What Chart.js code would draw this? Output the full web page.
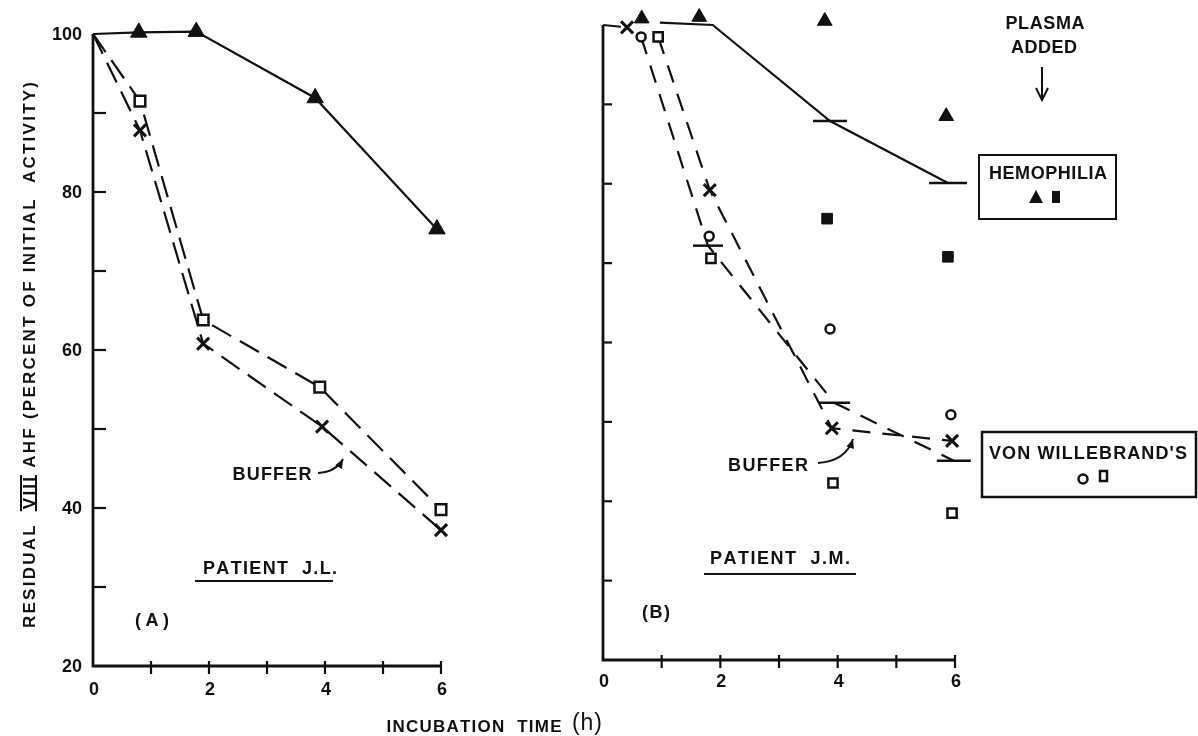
<!DOCTYPE html>
<html>
<head>
<meta charset="utf-8">
<script src="https://cdn.jsdelivr.net/npm/chart.js@4.4.1/dist/chart.umd.min.js"></script>
<style>
  body { margin: 0; background: #fff; }
  #wrap { position: relative; width: 1198px; height: 736px; }
  canvas { position: absolute; left: 0; top: 0; }
</style>
</head>
<body>
<div id="wrap">
  <canvas id="chartA" width="1198" height="736"></canvas>
  <canvas id="chartB" width="1198" height="736"></canvas>
</div>
<script>
const FONT = '"Liberation Sans", Arial, sans-serif';
const INK = '#111';

// ticks shared by both panels
const hourTicks = [0, 1, 2, 3, 4, 5, 6];
const hourLabels = ['0', '', '2', '', '4', '', '6'];
const percentTicks = [20, 30, 40, 50, 60, 70, 80, 90, 100];
const percentLabels = ['20', '', '40', '', '60', '', '80', '', '100'];

// (A) patient J.L.
const jlPlasmaHours = [0, 0.79, 1.78, 3.83, 5.93];
const jlPlasmaValues = [100, 100.2, 100.3, 91.9, 75.3];
const jlSquareHours = [0, 0.81, 1.9, 3.91, 6.0];
const jlSquareValues = [100, 91.5, 63.8, 55.3, 39.8];
const jlBufferHours = [0, 0.81, 1.9, 3.95, 6.0];
const jlBufferValues = [100, 87.8, 60.8, 50.3, 37.2];

// (B) patient J.M. - hemophilia plasma added
const jmHemTriHours = [0.66, 1.64, 3.78, 5.85];
const jmHemTriValues = [100.8, 101.0, 100.5, 88.5];
const jmHemSqHours = [0.92, 1.87, 3.82, 5.88];
const jmHemSqValues = [101.1, 101.3, 75.6, 70.8];
const jmHemMeanHours = [0.97, 1.87, 3.87, 5.88];
const jmHemMeanValues = [100.3, 100.0, 87.9, 80.1];

// (B) von Willebrand's plasma added
const jmVwCircleHours = [0.65, 1.81, 3.87, 5.93];
const jmVwCircleValues = [98.5, 73.4, 61.7, 50.9];
const jmVwSquareHours = [0.94, 1.84, 3.92, 5.95];
const jmVwSquareValues = [98.5, 70.6, 42.3, 38.5];
const jmVwMeanHours = [1.79, 3.94, 5.98];
const jmVwMeanValues = [72.2, 52.4, 45.1];
const jmVwPathHours = [0.65, 1.79, 3.94, 5.98];
const jmVwPathValues = [98.5, 72.2, 52.4, 45.1];

// (B) buffer
const jmBufferHours = [0.41, 1.82, 3.9, 5.95];
const jmBufferValues = [99.7, 79.2, 49.2, 47.6];
const jmBufferStartHours = [0, 0.41];
const jmBufferStartValues = [100, 99.7];
const jmBufferPathHours = [0.94, 1.82, 3.9, 5.95];
const jmBufferPathValues = [98.5, 79.2, 49.2, 47.6];

const pts = (hours, values) => hours.map((h, i) => ({ x: h, y: values[i] }));

function series(data, o) {
  return Object.assign({
    data,
    showLine: false,
    clip: false,
    borderColor: INK,
    borderWidth: 2.2,
    pointBorderColor: INK,
    pointBackgroundColor: INK,
    pointBorderWidth: 2.5,
    pointRadius: 0,
    pointHoverRadius: 0,
    tension: 0
  }, o);
}

function spacedText(ctx, text, cx, cy, width, size, weight) {
  ctx.font = (weight || 'bold') + ' ' + size + 'px ' + FONT;
  ctx.textAlign = 'left';
  ctx.textBaseline = 'alphabetic';
  const chars = [...text];
  const widths = chars.map(c => ctx.measureText(c).width);
  const natural = widths.reduce((s, w) => s + w, 0);
  const gap = chars.length > 1 ? (width - natural) / (chars.length - 1) : 0;
  let x = cx - width / 2;
  const pos = [];
  chars.forEach((c, i) => {
    ctx.fillText(c, x, cy + size * 0.36);
    pos.push([x, x + widths[i]]);
    x += widths[i] + gap;
  });
  return pos;
}

function seg(ctx, x1, y1, x2, y2) {
  ctx.beginPath(); ctx.moveTo(x1, y1); ctx.lineTo(x2, y2); ctx.stroke();
}

function curvedArrow(ctx, x1, y1, cx, cy, x2, y2) {
  ctx.beginPath(); ctx.moveTo(x1, y1); ctx.quadraticCurveTo(cx, cy, x2, y2); ctx.stroke();
  const ang = Math.atan2(y2 - cy, x2 - cx);
  ctx.beginPath();
  ctx.moveTo(x2, y2);
  ctx.lineTo(x2 - 10 * Math.cos(ang - 0.4), y2 - 10 * Math.sin(ang - 0.4));
  ctx.lineTo(x2 - 10 * Math.cos(ang + 0.4), y2 - 10 * Math.sin(ang + 0.4));
  ctx.closePath(); ctx.fill();
}

function axesPlugin(cfg) {
  return {
    id: 'axes' + cfg.name,
    beforeDatasetsDraw(chart) {
      const { ctx, chartArea: a, scales: { x, y } } = chart;
      ctx.save();
      ctx.strokeStyle = INK;
      ctx.fillStyle = INK;
      ctx.lineWidth = 2.8;
      ctx.beginPath();
      ctx.moveTo(a.left, a.top);
      ctx.lineTo(a.left, a.bottom);
      ctx.lineTo(a.right, a.bottom);
      ctx.stroke();
      ctx.lineWidth = 2.2;
      percentTicks.forEach((v, i) => {
        const py = y.getPixelForValue(v);
        if (v > 20 && v < 100) seg(ctx, a.left, py, a.left + cfg.yTick, py);
        if (cfg.yLabels && percentLabels[i]) {
          ctx.font = 'bold 18px ' + FONT;
          ctx.textAlign = 'right';
          ctx.textBaseline = 'middle';
          ctx.fillText(percentLabels[i], a.left - 11, py + 1);
        }
      });
      hourTicks.forEach((h, i) => {
        const px = x.getPixelForValue(h);
        if (h > 0) seg(ctx, px, a.bottom - 5, px, a.bottom + 8);
        if (hourLabels[i]) {
          ctx.font = 'bold 18px ' + FONT;
          ctx.textAlign = 'center';
          ctx.textBaseline = 'middle';
          ctx.fillText(hourLabels[i], px + 1, a.bottom + cfg.xLabelGap);
        }
      });
      ctx.restore();
    }
  };
}

const notesA = {
  id: 'notesA',
  afterDraw(chart) {
    const ctx = chart.ctx;
    ctx.save();
    ctx.fillStyle = INK;
    ctx.strokeStyle = INK;
    ctx.lineWidth = 2;
    spacedText(ctx, 'BUFFER', 272, 474, 79, 18);
    curvedArrow(ctx, 318, 473, 336, 472, 343, 459);
    spacedText(ctx, 'PATIENT  J.L.', 270, 568, 134, 18);
    seg(ctx, 195, 581, 333, 581);
    spacedText(ctx, '(A)', 152, 620, 34, 18);

    // axis titles for the whole figure
    spacedText(ctx, 'INCUBATION  TIME', 474, 726, 175, 17);
    spacedText(ctx, '(h)', 587, 722, 30, 23, 'normal');

    ctx.save();
    ctx.translate(29, 355);
    ctx.rotate(-Math.PI / 2);
    const title = 'RESIDUAL  VIII AHF (PERCENT OF INITIAL  ACTIVITY)';
    const pos = spacedText(ctx, title, 0, 0, 546, 17);
    const k = title.indexOf('VIII');
    const x1 = pos[k][0] - 2, x2 = pos[k + 3][1] + 2;
    seg(ctx, x1, -8, x2, -8);
    seg(ctx, x1, 7, x2, 7);
    ctx.restore();
    ctx.restore();
  }
};

const notesB = {
  id: 'notesB',
  afterDraw(chart) {
    const ctx = chart.ctx;
    ctx.save();
    ctx.fillStyle = INK;
    ctx.strokeStyle = INK;
    ctx.lineWidth = 2;
    spacedText(ctx, 'BUFFER', 768, 465, 80, 18);
    curvedArrow(ctx, 818, 463, 846, 461, 853, 439);
    spacedText(ctx, 'PATIENT  J.M.', 780, 558, 140, 18);
    seg(ctx, 704, 574, 856, 574);
    spacedText(ctx, '(B)', 656, 612, 28, 18);

    spacedText(ctx, 'PLASMA', 1045, 23, 79, 18);
    spacedText(ctx, 'ADDED', 1044, 47, 66, 18);
    seg(ctx, 1042, 67, 1042, 100);
    ctx.beginPath();
    ctx.moveTo(1036, 88); ctx.lineTo(1042, 100); ctx.lineTo(1048, 88);
    ctx.stroke();

    ctx.strokeRect(979, 155, 137, 64);
    spacedText(ctx, 'HEMOPHILIA', 1048, 173, 118, 18);
    ctx.beginPath();
    ctx.moveTo(1036, 190); ctx.lineTo(1043, 203); ctx.lineTo(1029, 203);
    ctx.closePath(); ctx.fill();
    ctx.fillRect(1052, 191, 8, 12);

    ctx.lineWidth = 2.5;
    ctx.strokeRect(982, 432, 214, 65);
    spacedText(ctx, "VON WILLEBRAND'S", 1088, 453, 198, 18);
    ctx.beginPath(); ctx.arc(1083, 479, 4.5, 0, Math.PI * 2); ctx.stroke();
    ctx.strokeRect(1100, 471, 7, 10);
    ctx.restore();
  }
};

function options(area) {
  return {
    responsive: false,
    animation: false,
    events: [],
    layout: {
      padding: { left: area.left, top: area.top, right: 1198 - area.right, bottom: 736 - area.bottom }
    },
    scales: {
      x: { type: 'linear', min: 0, max: 6, display: false },
      y: { type: 'linear', min: 20, max: 100, display: false }
    },
    plugins: { legend: { display: false }, tooltip: { enabled: false } }
  };
}

new Chart(document.getElementById('chartA'), {
  type: 'scatter',
  data: {
    datasets: [
      series(pts(jlPlasmaHours, jlPlasmaValues), {
        showLine: true, pointStyle: 'triangle', pointRadius: [0, 9.5, 9.5, 9.5, 9.5], pointBorderWidth: 1
      }),
      series(pts(jlSquareHours, jlSquareValues), {
        showLine: true, borderDash: [22, 10], pointStyle: 'rect', pointRadius: [0, 7.5, 7.5, 7.5, 7.5],
        pointBackgroundColor: '#fff'
      }),
      series(pts(jlBufferHours, jlBufferValues), {
        showLine: true, borderDash: [22, 10], pointStyle: 'crossRot', pointRadius: [0, 8.5, 8.5, 8.5, 8.5],
        pointBorderWidth: 3
      })
    ]
  },
  options: options({ left: 93, right: 441, top: 34, bottom: 666 }),
  plugins: [axesPlugin({ name: 'A', yTick: 13, yLabels: true, xLabelGap: 24 }), notesA]
});

new Chart(document.getElementById('chartB'), {
  type: 'scatter',
  data: {
    datasets: [
      series(pts(jmHemTriHours, jmHemTriValues), { pointStyle: 'triangle', pointRadius: 8.5, pointBorderWidth: 1 }),
      series(pts(jmHemSqHours, jmHemSqValues), { pointStyle: 'rect', pointRadius: 7.5, pointBorderWidth: 1 }),
      series(pts(jmVwCircleHours, jmVwCircleValues), { pointStyle: 'circle', pointRadius: 4.5, pointBackgroundColor: '#fff' }),
      series(pts(jmVwSquareHours, jmVwSquareValues), { pointStyle: 'rect', pointRadius: 6.5, pointBackgroundColor: '#fff' }),
      series(pts(jmBufferHours, jmBufferValues), { pointStyle: 'crossRot', pointRadius: 8.5, pointBorderWidth: 3 }),
      series(pts(jmVwMeanHours, jmVwMeanValues), { pointStyle: 'line', pointRadius: [15, 16, 17] }),
      series(pts(jmHemMeanHours, jmHemMeanValues), {
        showLine: true, pointStyle: 'line', pointRadius: [0, 0, 17, 19]
      }),
      series(pts(jmBufferStartHours, jmBufferStartValues), { showLine: true, borderDash: [18, 12] }),
      series(pts(jmBufferPathHours, jmBufferPathValues), { showLine: true, borderDash: [18, 12] }),
      series(pts(jmVwPathHours, jmVwPathValues), { showLine: true, borderDash: [18, 12] })
    ]
  },
  options: options({ left: 603, right: 955, top: 25, bottom: 660 }),
  plugins: [axesPlugin({ name: 'B', yTick: 9, yLabels: false, xLabelGap: 22 }), notesB]
});
</script>
</body>
</html>
